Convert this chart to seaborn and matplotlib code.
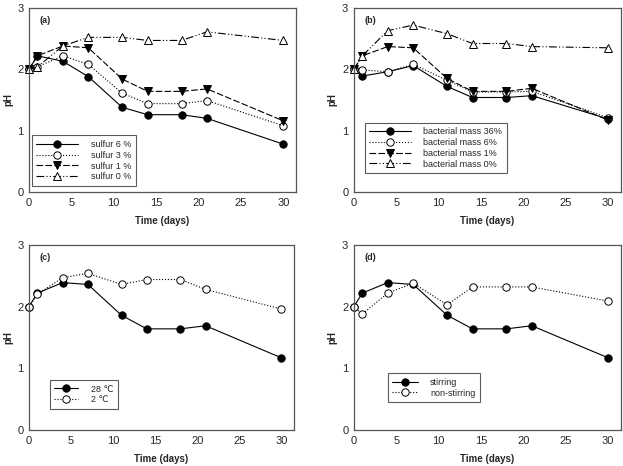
import numpy as np
import pandas as pd
import matplotlib
matplotlib.use("Agg")
import matplotlib.pyplot as plt
from matplotlib.ticker import MultipleLocator
import seaborn as sns

# Données
days = [0, 1, 4, 7, 11, 14, 18, 21, 30]

sulfur_6 = [2.0, 2.22, 2.13, 1.88, 1.38, 1.26, 1.26, 1.20, 0.78]
sulfur_3 = [2.0, 2.04, 2.22, 2.08, 1.61, 1.44, 1.44, 1.49, 1.08]
sulfur_1 = [2.0, 2.22, 2.38, 2.35, 1.84, 1.64, 1.64, 1.68, 1.16]
sulfur_0 = [2.0, 2.04, 2.38, 2.52, 2.52, 2.47, 2.47, 2.61, 2.47]

bact_36 = [2.0, 1.89, 1.96, 2.06, 1.72, 1.54, 1.54, 1.57, 1.19]
bact_6 = [2.0, 1.99, 1.96, 2.08, 1.82, 1.63, 1.63, 1.64, 1.21]
bact_1 = [2.0, 2.22, 2.37, 2.35, 1.85, 1.64, 1.64, 1.69, 1.17]
bact_0 = [2.0, 2.22, 2.63, 2.72, 2.58, 2.42, 2.42, 2.37, 2.35]

temp_28 = [2.0, 2.22, 2.39, 2.36, 1.86, 1.64, 1.64, 1.69, 1.17]
temp_2 = [2.0, 2.20, 2.47, 2.54, 2.36, 2.44, 2.44, 2.28, 1.96]

stirring = [2.0, 2.22, 2.39, 2.36, 1.86, 1.64, 1.64, 1.69, 1.17]
non_stirring = [2.0, 1.88, 2.22, 2.38, 2.03, 2.32, 2.32, 2.32, 2.09]

sns.set_style("white")
plt.rcParams['font.family'] = ['Liberation Sans', 'DejaVu Sans']

# styles : (marker, facecolor, linestyle)
st_fill = dict(marker='o', markerfacecolor='black', linestyle='-')
st_open = dict(marker='o', markerfacecolor='white', linestyle=':')
st_tri = dict(marker='v', markerfacecolor='black', linestyle=(0, (6, 2)))
st_tri_open = dict(marker='^', markerfacecolor='white', linestyle=(0, (7, 2, 1, 2, 1, 2)))

panels = [
    ("(a)", [0.0465, 0.588, 0.4286, 0.395],
     [("sulfur 6 %", sulfur_6, st_fill), ("sulfur 3 %", sulfur_3, st_open),
      ("sulfur 1 %", sulfur_1, st_tri), ("sulfur 0 %", sulfur_0, st_tri_open)],
     (0.011, 0.033), 4.6),
    ("(b)", [0.568, 0.588, 0.4286, 0.395],
     [("bacterial mass 36%", bact_36, st_fill), ("bacterial mass 6%", bact_6, st_open),
      ("bacterial mass 1%", bact_1, st_tri), ("bacterial mass 0%", bact_0, st_tri_open)],
     (0.041, 0.103), 4.6),
    ("(c)", [0.0465, 0.0773, 0.4254, 0.397],
     [("28 \u2103", temp_28, st_fill), ("2 \u2103", temp_2, st_open)],
     (0.079, 0.114), 2.6),
    ("(d)", [0.568, 0.0773, 0.4286, 0.397],
     [("stirring", stirring, st_fill), ("non-stirring", non_stirring, st_open)],
     (0.127, 0.151), 2.8),
]

fig = plt.figure(figsize=(6.23, 4.66), dpi=100)

for tag, rect, series, leg_pos, hlen in panels:
    ax = fig.add_axes(rect)
    for label, vals, st in series:
        sns.lineplot(x=days, y=vals, ax=ax, color='black', linewidth=0.8,
                     marker=st['marker'], markerfacecolor=st['markerfacecolor'],
                     markeredgecolor='black', markeredgewidth=0.7, markersize=5.3,
                     linestyle=st['linestyle'], label=label, clip_on=False)
    ax.set_xlim(0, 31.5)
    ax.set_ylim(0, 3)
    ax.xaxis.set_major_locator(MultipleLocator(5))
    ax.xaxis.set_minor_locator(MultipleLocator(1))
    ax.yaxis.set_major_locator(MultipleLocator(1))
    ax.yaxis.set_minor_locator(MultipleLocator(0.2))
    ax.tick_params(which='both', direction='in', labelsize=8, color='#444444')
    ax.tick_params(which='major', length=3, width=0.7, pad=4)
    ax.tick_params(which='minor', length=2, width=0.6)
    for sp in ax.spines.values():
        sp.set_color('#555555')
        sp.set_linewidth(0.9)
    ax.set_xlabel("Time (days)", fontsize=7, fontweight='bold', labelpad=6)
    ax.set_ylabel("pH", fontsize=7, fontweight='bold', labelpad=3)
    ax.text(1.3, 2.8, tag, fontsize=6.5, fontweight='bold', ha='left', va='center')
    leg = ax.legend(loc='lower left', bbox_to_anchor=leg_pos, fontsize=6.5,
                    frameon=True, fancybox=False, edgecolor='#333333',
                    handlelength=hlen, handletextpad=1.4, labelspacing=0.2,
                    borderpad=0.5, borderaxespad=0)
    leg.get_frame().set_linewidth(0.8)

fig.savefig("out.png", dpi=100)
